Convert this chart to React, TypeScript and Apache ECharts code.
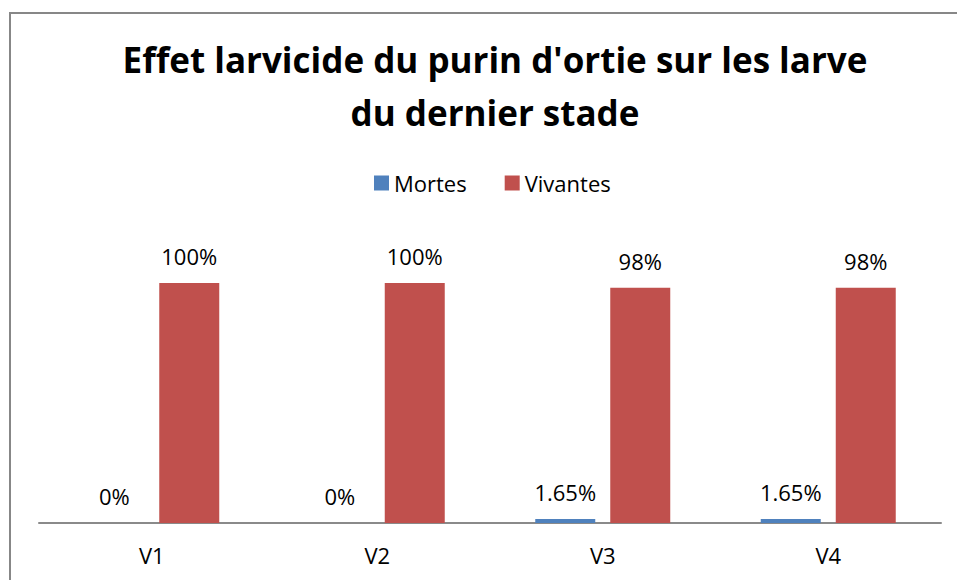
import React, { useEffect, useRef } from "react";
import * as echarts from "echarts";

const categories = ["V1", "V2", "V3", "V4"];
const mortes = [0, 0, 1.65, 1.65];
const vivantes = [100, 100, 98, 98];
const titleLines = ["Effet larvicide du purin d'ortie sur les larve", "du dernier stade"];

const FONT = "'Open Sans', 'Noto Sans', sans-serif";

export default function App() {
  const ref = useRef<HTMLDivElement>(null);
  useEffect(() => {
    if (!ref.current) return;
    const chart = echarts.init(ref.current, undefined, { renderer: "svg" });
    const labelFmt = (p: any) => `${p.value}%`;
    const labelStyle = {
      show: true,
      position: "top",
      distance: 16,
      formatter: labelFmt,
      fontFamily: FONT,
      fontSize: 22,
      color: "#000000",
    };
    chart.setOption({
      animation: false,
      backgroundColor: "#ffffff",
      title: {
        text: titleLines.join("\n"),
        left: 490,
        top: 28,
        textAlign: "center",
        textStyle: {
          fontFamily: FONT,
          fontWeight: "bold",
          fontSize: 35,
          lineHeight: 53,
          color: "#000000",
        },
      },
      legend: {
        left: 369,
        top: 167,
        itemWidth: 15,
        itemHeight: 15,
        itemGap: 38,
        icon: "rect",
        textStyle: { fontFamily: FONT, fontSize: 22, color: "#000000" },
        data: ["Mortes", "Vivantes"],
      },
      graphic: [
        {
          type: "rect",
          shape: { x: 10, y: 13, width: 1200, height: 1200 },
          style: { fill: "none", stroke: "#878787", lineWidth: 2 },
          silent: true,
          z: 100,
        },
      ],
      grid: { left: 39, right: 16, top: 235, bottom: 57 },
      xAxis: {
        type: "category",
        data: categories,
        axisLine: { lineStyle: { color: "#8a8a8a", width: 2 } },
        axisTick: { show: false },
        axisLabel: { fontFamily: FONT, fontSize: 22, color: "#000000", margin: 21 },
      },
      yAxis: {
        type: "value",
        min: 0,
        max: 120,
        show: false,
        splitLine: { show: false },
      },
      series: [
        {
          name: "Mortes",
          type: "bar",
          data: mortes,
          barWidth: 60,
          barGap: "25%",
          itemStyle: { color: "#4F81BD" },
          label: labelStyle,
        },
        {
          name: "Vivantes",
          type: "bar",
          data: vivantes,
          barWidth: 60,
          barGap: "25%",
          itemStyle: { color: "#C0504D" },
          label: labelStyle,
        },
      ],
    });
    return () => chart.dispose();
  }, []);
  return (
    <div
      ref={ref}
      style={{ position: "fixed", left: 0, top: 0, width: 957, height: 580 }}
    />
  );
}
